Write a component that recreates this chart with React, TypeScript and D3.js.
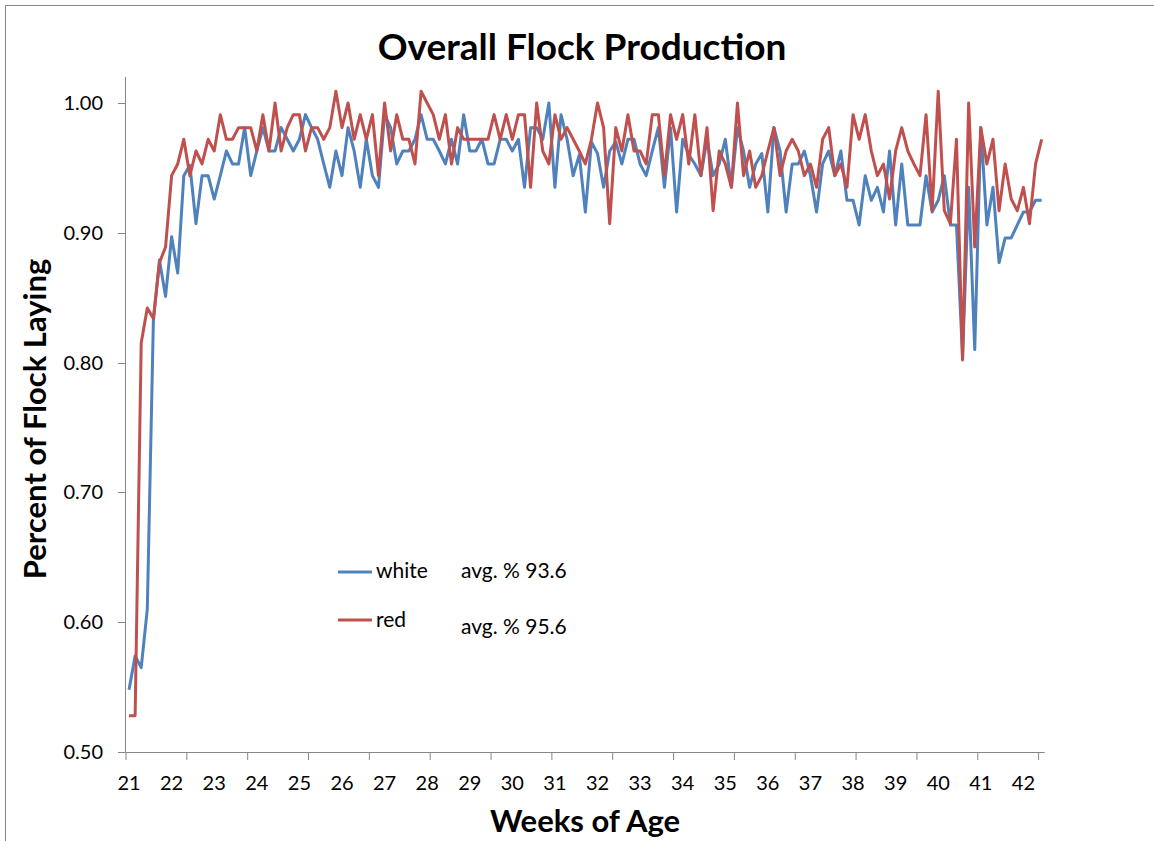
import React from "react";
import * as d3 from "d3";

// daily production, one value per day from week 21 on
const white = [
  0.548, 0.574, 0.565, 0.61, 0.832, 0.879, 0.851, 0.897, 0.869, 0.944,
  0.952, 0.907, 0.944, 0.944, 0.926, 0.944, 0.963, 0.953, 0.953, 0.981,
  0.944, 0.963, 0.981, 0.963, 0.963, 0.981, 0.972, 0.963, 0.972, 0.991,
  0.981, 0.972, 0.953, 0.935, 0.963, 0.944, 0.981, 0.963, 0.935, 0.972,
  0.944, 0.935, 0.991, 0.981, 0.953, 0.963, 0.963, 0.972, 0.991, 0.972,
  0.972, 0.963, 0.953, 0.972, 0.953, 0.991, 0.963, 0.963, 0.972, 0.953,
  0.953, 0.972, 0.972, 0.963, 0.972, 0.935, 0.981, 0.981, 0.972, 1.0,
  0.935, 0.991, 0.972, 0.944, 0.96, 0.916, 0.97, 0.961, 0.935, 0.963,
  0.97, 0.953, 0.972, 0.972, 0.953, 0.944, 0.963, 0.981, 0.935, 0.981,
  0.916, 0.972, 0.96, 0.953, 0.944, 0.972, 0.944, 0.953, 0.972, 0.935,
  0.981, 0.963, 0.935, 0.953, 0.961, 0.916, 0.981, 0.963, 0.916, 0.953,
  0.953, 0.963, 0.944, 0.916, 0.953, 0.963, 0.944, 0.963, 0.925, 0.925,
  0.906, 0.944, 0.925, 0.935, 0.916, 0.963, 0.906, 0.953, 0.906, 0.906,
  0.906, 0.944, 0.916, 0.925, 0.944, 0.906, 0.906, 0.804, 0.935, 0.81,
  0.981, 0.906, 0.935, 0.877, 0.896, 0.896, 0.906, 0.916, 0.916, 0.925,
  0.925,
];

const red = [
  0.528, 0.528, 0.815, 0.842, 0.834, 0.877, 0.889, 0.944, 0.953, 0.972,
  0.944, 0.963, 0.953, 0.972, 0.963, 0.991, 0.972, 0.972, 0.981, 0.981,
  0.981, 0.963, 0.991, 0.963, 1.0, 0.963, 0.981, 0.991, 0.991, 0.963,
  0.981, 0.981, 0.972, 0.981, 1.009, 0.981, 1.0, 0.972, 0.991, 0.972,
  0.991, 0.944, 1.0, 0.963, 0.991, 0.972, 0.972, 0.953, 1.009, 1.0,
  0.991, 0.972, 0.991, 0.953, 0.981, 0.972, 0.972, 0.972, 0.972, 0.972,
  0.991, 0.972, 0.991, 0.972, 0.991, 0.991, 0.935, 1.0, 0.963, 0.953,
  0.991, 0.972, 0.981, 0.972, 0.963, 0.953, 0.972, 1.0, 0.981, 0.907,
  0.981, 0.963, 0.991, 0.963, 0.963, 0.953, 0.991, 0.991, 0.944, 0.991,
  0.972, 0.991, 0.953, 0.991, 0.944, 0.981, 0.917, 0.963, 0.953, 0.935,
  1.0, 0.944, 0.963, 0.935, 0.944, 0.963, 0.981, 0.944, 0.963, 0.972,
  0.963, 0.944, 0.953, 0.935, 0.972, 0.981, 0.944, 0.953, 0.935, 0.991,
  0.972, 0.991, 0.963, 0.944, 0.953, 0.926, 0.963, 0.981, 0.963, 0.953,
  0.944, 0.991, 0.917, 1.009, 0.917, 0.907, 0.972, 0.802, 1.0, 0.889,
  0.981, 0.953, 0.972, 0.917, 0.953, 0.926, 0.917, 0.935, 0.907, 0.953,
  0.972,
];

const weekLabels = d3.range(21, 43); // one label every 7 days
const yTicks = [0.5, 0.6, 0.7, 0.8, 0.9, 1.0];

const BLUE = "#4F81BD";
const RED = "#C0504D";
const AXIS = "#868686";
const FONT = "Lato, 'Open Sans', sans-serif";

export default function App() {
  const width = 1154;
  const height = 841;

  // category axis: 151 days, each day sits in the middle of its slot
  const x = d3.scaleLinear().domain([0, white.length]).range([126, 1044.7]);
  const y = d3.scaleLinear().domain([0.5, 1.02]).range([752, 77]);

  const line = d3
    .line<number>()
    .x((d, i) => x(i + 0.5))
    .y((d) => y(d));

  const dayTicks = d3.range(0, white.length + 1, 10);

  return (
    <svg
      width={width}
      height={height}
      style={{ position: "absolute", left: 0, top: 0, background: "#fff" }}
      fontFamily={FONT}
    >
      <rect x={5.5} y={5.5} width={1200} height={900} fill="#fff" stroke={AXIS} strokeWidth={1} />

      <text x={582} y={60} textAnchor="middle" fontSize={37} fontWeight="bold" fill="#000">
        Overall Flock Production
      </text>

      {/* y axis */}
      <line x1={125.5} x2={125.5} y1={y(1.02)} y2={752} stroke={AXIS} strokeWidth={1} />
      {yTicks.map((t) => (
        <g key={t}>
          <line x1={118} x2={125.5} y1={Math.round(y(t)) + 0.5} y2={Math.round(y(t)) + 0.5} stroke={AXIS} />
          <text x={103} y={y(t)} dy="0.35em" textAnchor="end" fontSize={20} fill="#000">
            {t.toFixed(2)}
          </text>
        </g>
      ))}

      {/* x axis */}
      <line x1={125.5} x2={x(white.length)} y1={752.5} y2={752.5} stroke={AXIS} strokeWidth={1} />
      {dayTicks.map((d) => (
        <line key={d} x1={x(d)} x2={x(d)} y1={752.5} y2={760} stroke={AXIS} />
      ))}
      {weekLabels.map((w, k) => (
        <text key={w} x={x(k * 7 + 0.5)} y={790} textAnchor="middle" fontSize={20} fill="#000">
          {w}
        </text>
      ))}

      <path d={line(white) || ""} fill="none" stroke={BLUE} strokeWidth={3} strokeLinejoin="round" />
      <path d={line(red) || ""} fill="none" stroke={RED} strokeWidth={3} strokeLinejoin="round" />

      {/* axis titles */}
      <text x={585} y={832} textAnchor="middle" fontSize={31} fontWeight="bold" fill="#000">
        Weeks of Age
      </text>
      <text
        transform="translate(46,419) rotate(-90)"
        textAnchor="middle"
        fontSize={31}
        fontWeight="bold"
        fill="#000"
      >
        Percent of Flock Laying
      </text>

      {/* legend */}
      <line x1={338} x2={372} y1={572} y2={572} stroke={BLUE} strokeWidth={3} />
      <text x={376} y={578} fontSize={21} fill="#000">white</text>
      <text x={461} y={578} fontSize={21} fill="#000">avg. % 93.6</text>
      <line x1={338} x2={372} y1={620} y2={620} stroke={RED} strokeWidth={3} />
      <text x={376} y={627} fontSize={21} fill="#000">red</text>
      <text x={461} y={634} fontSize={21} fill="#000">avg. % 95.6</text>
    </svg>
  );
}
